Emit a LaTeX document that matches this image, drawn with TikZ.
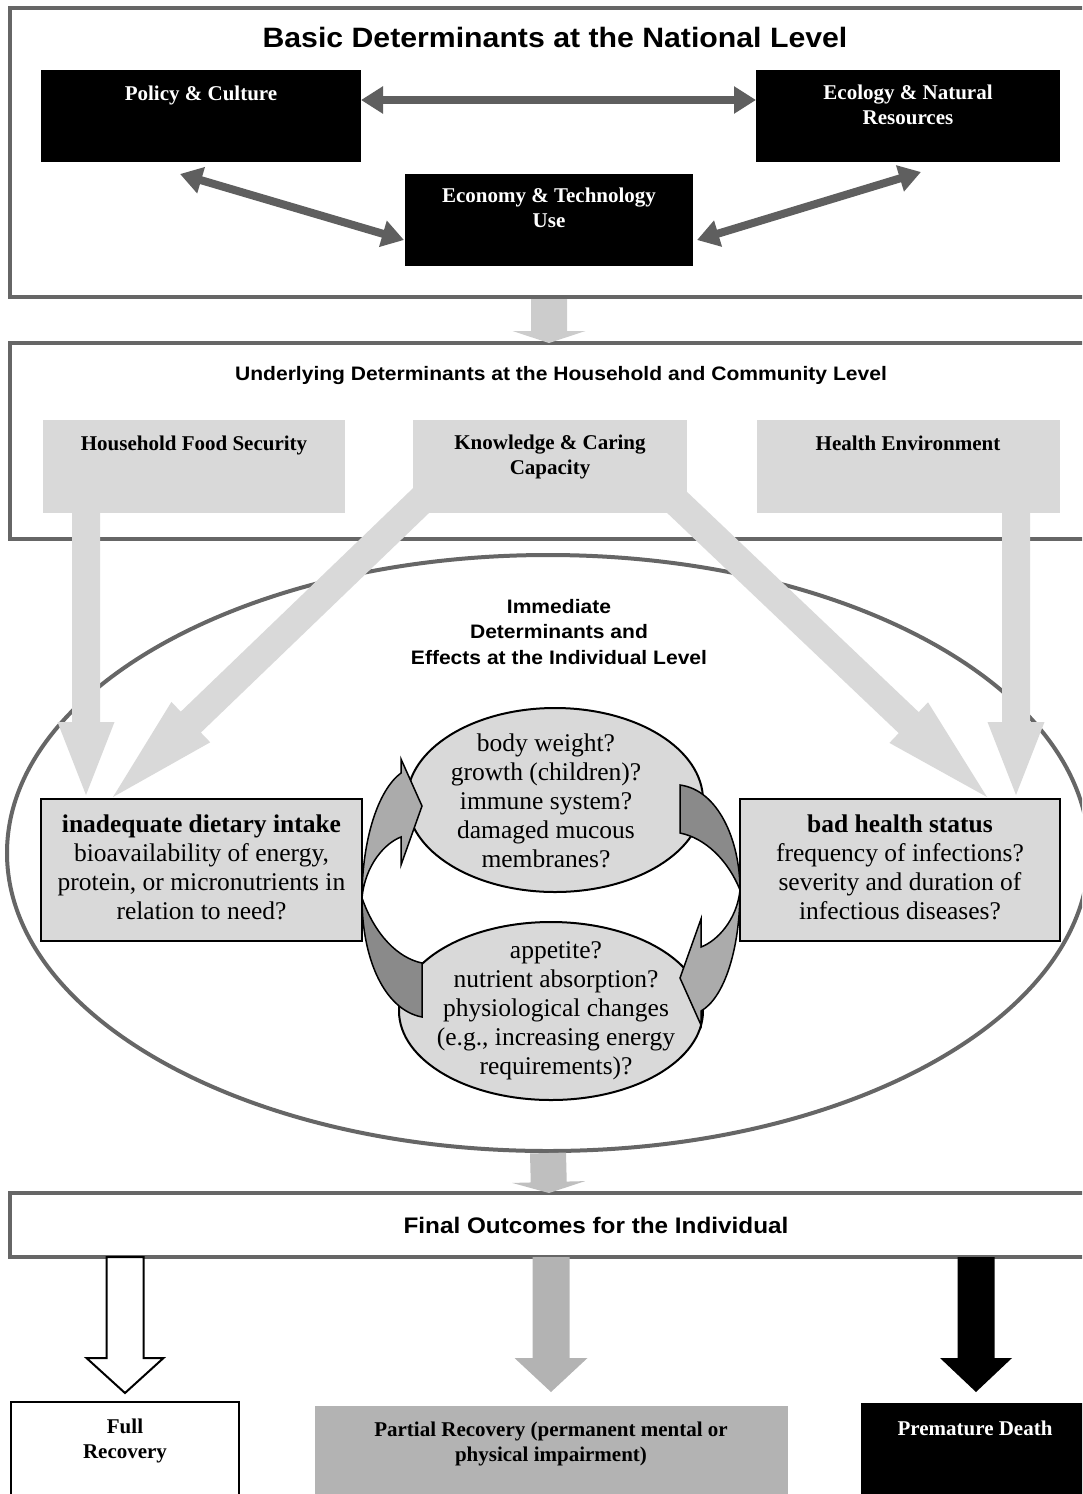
\documentclass[tikz,border=0pt]{standalone}
\usepackage{fontspec}
\setmainfont{Liberation Serif}
\newfontfamily\arialx{Liberation Sans}[FakeStretch=1.08]
\usetikzlibrary{calc,arrows.meta,shapes.geometric}
\definecolor{lg}{HTML}{D9D9D9}
\definecolor{mg}{HTML}{B3B3B3}
\definecolor{bordergray}{HTML}{666666}
\definecolor{dg}{HTML}{5F5F5F}
\definecolor{conA}{HTML}{CCCCCC}
\definecolor{conB}{HTML}{BFBFBF}
\definecolor{clight}{HTML}{ABABAB}
\definecolor{cdark}{HTML}{8A8A8A}
\newcommand{\ml}[1]{\begin{tabular}[t]{@{}c@{}}#1\end{tabular}}
% block arrow: #1 style, #2 start, #3 tip, #4 shaft half width, #5 head half width, #6 head length
\newcommand{\barrow}[6]{%
  \coordinate (barrowH) at ($(#3)!#6!(#2)$);
  \path[#1] ($(#2)!#4!90:(#3)$) -- ($(barrowH)!#4!90:(#3)$) -- ($(barrowH)!#5!90:(#3)$) -- (#3)
    -- ($(barrowH)!#5!-90:(#3)$) -- ($(barrowH)!#4!-90:(#3)$) -- ($(#2)!#4!-90:(#3)$) -- cycle;}
\tikzset{
  sec/.style={draw=bordergray, line width=4pt, inner sep=0pt, outer sep=0pt, anchor=north west},
  bbox/.style={fill=black, inner sep=0pt, outer sep=0pt},
  gbox/.style={fill=lg, inner sep=0pt, outer sep=0pt},
  obox/.style={fill=lg, draw=black, line width=2pt, inner sep=0pt, outer sep=0pt},
  oval/.style={ellipse, fill=lg, draw=black, line width=2pt, inner sep=0pt, outer sep=0pt},
  dbl/.style={draw=dg, line width=8pt, {Triangle[length=22pt,width=26pt]}-{Triangle[length=22pt,width=26pt]}},
  hdA/.style={font=\arialx\bfseries\fontsize{28}{33}\selectfont, inner sep=0pt, anchor=base},
  hdB/.style={font=\arialx\bfseries\fontsize{19.5}{25.5}\selectfont, inner sep=0pt, anchor=base},
  hdC/.style={font=\arialx\bfseries\fontsize{22.5}{27}\selectfont, inner sep=0pt, anchor=base},
  lbl/.style={font=\bfseries\fontsize{21}{25}\selectfont, inner sep=0pt, anchor=base},
  body/.style={font=\fontsize{25.5}{29.2}\selectfont, inner sep=0pt, anchor=base},
  curv/.style={draw=black, line width=1.5pt, line join=miter}
}
\begin{document}
\begin{tikzpicture}[x=1pt,y=-1pt]
\useasboundingbox (0,0) rectangle (1082,1494);
\clip (0,0) rectangle (1082,1494);

% big ellipse
\node[ellipse, draw=bordergray, line width=4pt, fill=white, minimum width=1082pt, minimum height=596pt, inner sep=0pt] (imm) at (548,853) {};

% section frames
\node[sec, minimum width=1085pt, minimum height=289pt] (basic) at (10,8) {};
\node[sec, minimum width=1085pt, minimum height=196pt] (under) at (10,343) {};
\node[sec, minimum width=1085pt, minimum height=64pt] (final) at (10,1193) {};

% basic determinants
\node[bbox, minimum width=320pt, minimum height=92pt] (pc) at (201,116) {};
\node[bbox, minimum width=304pt, minimum height=92pt] (eco) at (908,116) {};
\node[bbox, minimum width=288pt, minimum height=92pt] (ec) at (549,220) {};
\coordinate (pcR) at ($(pc.north east)+(0,30)$);
\coordinate (ecoL) at ($(eco.north west)+(0,30)$);
\coordinate (pcB) at (180,174);
\coordinate (ecL) at ($(ec.west)+(-1,20)$);
\coordinate (ecR) at ($(ec.east)+(4,20)$);
\coordinate (ecoB) at (921,172);
\draw[dbl] (pcR) -- (ecoL);
\draw[dbl] (pcB) -- (ecL);
\draw[dbl] (ecR) -- (ecoB);

% underlying determinants
\node[gbox, minimum width=302pt, minimum height=93pt] (hfs) at (194,466.5) {};
\node[gbox, minimum width=274pt, minimum height=93pt] (kcc) at (550,466.5) {};
\node[gbox, minimum width=303pt, minimum height=93pt] (he) at (908.5,466.5) {};

% middle boxes
\node[obox, minimum width=321pt, minimum height=142pt] (ina) at (201.5,870) {};
\node[obox, minimum width=320pt, minimum height=142pt] (bhs) at (900,870) {};

% big light arrows
\coordinate (hfsS) at (hfs.south -| 86,0);
\coordinate (inaT1) at (86,795);
\coordinate (kccL) at (432,490);
\coordinate (inaT2) at (113,797);
\coordinate (kccR) at (664,490);
\coordinate (bhsT1) at (987,797);
\coordinate (heS) at (he.south -| 1016,0);
\coordinate (bhsT2) at (1016,795);
\barrow{fill=lg}{hfsS}{inaT1}{14pt}{28.5pt}{73pt}
\barrow{fill=lg}{heS}{bhsT2}{14pt}{28.5pt}{73pt}
\barrow{fill=lg}{kccL}{inaT2}{14.5pt}{28pt}{108pt}
\barrow{fill=lg}{kccR}{bhsT1}{14.5pt}{28pt}{108pt}

% connectors between sections
\coordinate (basicS) at (549,299);
\coordinate (underN) at (549,343);
\barrow{fill=conA}{basicS}{underN}{18pt}{36.5pt}{12pt}
\coordinate (immS) at (imm.south);
\coordinate (finalN) at (549,1193);
\barrow{fill=conB}{immS}{finalN}{18pt}{36.5pt}{11pt}

% ovals
\node[oval, minimum width=296pt, minimum height=184pt] (up) at (555,800) {};
\node[oval, minimum width=304pt, minimum height=178pt] (lo) at (551,1011) {};

% curved arrows (left)
\path[curv, fill=cdark] (422,963) -- (422,1017) .. controls (385,1010) and (362,960) .. (362,898)
  .. controls (375,935) and (398,958) .. (422,963) -- cycle;
\path[curv, fill=clight] (362,898) .. controls (362,840) and (378,790) .. (401,773) -- (401,759) -- (422,806)
  -- (401,865) -- (401,837) .. controls (385,843) and (365,865) .. (362,898) -- cycle;
% curved arrows (right)
\path[curv, fill=cdark] (680,833) -- (680,785) .. controls (718,790) and (740,840) .. (740,890)
  .. controls (728,860) and (705,838) .. (680,833) -- cycle;
\path[curv, fill=clight] (740,890) .. controls (740,950) and (724,998) .. (701,1011) -- (701,1025) -- (680,978)
  -- (701,919) -- (701,947) .. controls (717,941) and (737,920) .. (740,890) -- cycle;

% outcomes
\coordinate (finalS1) at (125,1257);
\coordinate (fullN) at (125,1393);
\coordinate (finalS2) at (551,1257);
\coordinate (partN) at (551,1392);
\coordinate (finalS3) at (976,1257);
\coordinate (pdN) at (976,1392);
\barrow{draw=black, line width=2pt, fill=white}{finalS1}{fullN}{18.5pt}{38.5pt}{35pt}
\barrow{fill=mg}{finalS2}{partN}{18.5pt}{36.5pt}{34pt}
\barrow{fill=black}{finalS3}{pdN}{18.5pt}{36pt}{34pt}
\node[draw=black, line width=2pt, fill=white, inner sep=0pt, minimum width=228pt, minimum height=98pt] (full) at (125,1451) {};
\node[fill=mg, inner sep=0pt, minimum width=473pt, minimum height=94pt] (part) at (551.5,1453) {};
\node[fill=black, inner sep=0pt, minimum width=234pt, minimum height=97pt] (pd) at (978,1451.5) {};

% texts
\node[hdA] (basicT) at (555,47) {Basic Determinants at the National Level};
\node[lbl, text=white] (pcT) at (201,100) {Policy \& Culture};
\node[lbl, text=white] (ecoT) at (908,99) {\ml{Ecology \& Natural\\Resources}};
\node[lbl, text=white] (ecT) at (549,202) {\ml{Economy \& Technology\\Use}};
\node[hdB] (underT) at (561,380) {Underlying Determinants at the Household and Community Level};
\node[lbl] (hfsT) at (194,450) {Household Food Security};
\node[lbl] (kccT) at (550,449) {\ml{Knowledge \& Caring\\Capacity}};
\node[lbl] (heT) at (908,450) {Health Environment};
\node[hdB] (immT) at (559,613) {\ml{Immediate\\Determinants and\\Effects at the Individual Level}};
\node[body] (inaT) at (201.5,832) {\ml{\textbf{inadequate dietary intake}\\bioavailability of energy,\\protein, or micronutrients in\\relation to need?}};
\node[body] (bhsT) at (900,832) {\ml{\textbf{bad health status}\\frequency of infections?\\severity and duration of\\infectious diseases?}};
\node[body] (upT) at (546,751) {\ml{body weight?\\growth (children)?\\immune system?\\damaged mucous\\membranes?}};
\node[body] (loT) at (556,958) {\ml{appetite?\\nutrient absorption?\\physiological changes\\(e.g., increasing energy\\requirements)?}};
\node[hdC] (finalT) at (596,1233) {Final Outcomes for the Individual};
\node[lbl] (fullT) at (125,1433) {\ml{Full\\Recovery}};
\node[lbl] (partT) at (551,1436) {\ml{Partial Recovery (permanent mental or\\physical impairment)}};
\node[lbl, text=white] (pdT) at (975,1435) {Premature Death};
\end{tikzpicture}
\end{document}
